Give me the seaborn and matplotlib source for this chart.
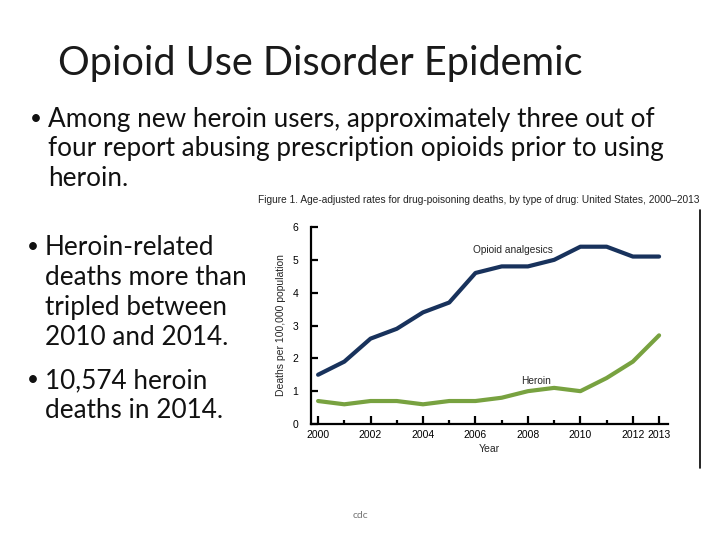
import matplotlib
matplotlib.use('Agg')
import matplotlib.pyplot as plt
import seaborn as sns
import pandas as pd

# Data
years = list(range(2000, 2014))
opioid = [1.5, 1.9, 2.6, 2.9, 3.4, 3.7, 4.6, 4.8, 4.8, 5.0, 5.4, 5.4, 5.1, 5.1]
heroin = [0.7, 0.6, 0.7, 0.7, 0.6, 0.7, 0.7, 0.8, 1.0, 1.1, 1.0, 1.4, 1.9, 2.7]
series_names = ['Opioid analgesics', 'Heroin']
xtick_labels = ['2000', '2002', '2004', '2006', '2008', '2010', '2012', '2013']
yticks = [0, 1, 2, 3, 4, 5, 6]

# slide text
title = 'Opioid Use Disorder Epidemic'
bullet1 = ['Among new heroin users, approximately three out of',
           'four report abusing prescription opioids prior to using',
           'heroin.']
bullet2 = ['Heroin-related', 'deaths more than', 'tripled between', '2010 and 2014.']
bullet3 = ['10,574 heroin', 'deaths in 2014.']
caption = ('Figure 1. Age-adjusted rates for drug-poisoning deaths, '
           'by type of drug: United States, 2000\u20132013')

df = pd.DataFrame({
    'Year': years * 2,
    'Rate': opioid + heroin,
    'Drug': [series_names[0]] * len(years) + [series_names[1]] * len(years),
})

sns.set_style('white')
plt.rcParams['font.family'] = ['Lato', 'DejaVu Sans']

W, H = 720, 540
fig = plt.figure(figsize=(7.2, 5.4), dpi=100)


def px(x, y):
    return x / W, 1 - y / H


def bullet(lines, xb, xt, y0, step, size):
    # smaller bullet sign, raised a little like in PowerPoint
    fig.text(*px(xb, y0 - 2), '\u2022', fontsize=size * 0.8, va='baseline',
             ha='left', color='#111111')
    for i, line in enumerate(lines):
        fig.text(*px(xt, y0 + i * step), line, fontsize=size, va='baseline',
                 ha='left', color='#111111')


fig.text(*px(58, 75), title, fontsize=28.5, va='baseline', ha='left',
         color='#1a1a1a')
bullet(bullet1, 30, 48, 127, 29.5, 18.8)
bullet(bullet2, 27, 45, 255, 30, 18.8)
bullet(bullet3, 27, 45, 388, 30, 18.8)
fig.text(*px(360, 515), 'cdc', fontsize=7.5, ha='center', va='center',
         color='#777777')

# figure caption
fig.text(*px(258, 200), caption, fontsize=7.3, family='Liberation Sans',
         ha='left', va='center', color='#222222')

# right border line
fig.add_artist(plt.Line2D([700 / W, 700 / W], [1 - 210 / H, 1 - 468 / H],
                          color='black', lw=1.2))

ax = fig.add_axes([311 / W, 1 - 424 / H, 357 / W, 197 / H])
sns.lineplot(data=df, x='Year', y='Rate', hue='Drug', ax=ax,
             palette=['#18325c', '#78a240'], linewidth=3, legend=False)

ax.set_xlim(1999.73, 2013.34)
ax.set_ylim(0, 6)
ax.set_xticks([int(t) for t in xtick_labels])
ax.set_xticklabels(xtick_labels)
ax.set_xticks([y for y in years if str(y) not in xtick_labels], minor=True)
ax.set_yticks(yticks)
sns.despine(ax=ax)
for s in ['left', 'bottom']:
    ax.spines[s].set_linewidth(1.6)
    ax.spines[s].set_color('black')
ax.tick_params(axis='x', which='major', direction='in', length=6, width=1.6,
               labelsize=7.5, pad=4, bottom=True, colors='black')
ax.tick_params(axis='x', which='minor', direction='in', length=3, width=1.6,
               bottom=True, colors='black')
ax.tick_params(axis='y', direction='in', length=5, width=1.6, labelsize=7.5,
               pad=9, left=True, colors='black')
for lab in ax.get_xticklabels() + ax.get_yticklabels():
    lab.set_family('Liberation Sans')
ax.set_xlabel('Year', fontsize=7.5, family='Liberation Sans', labelpad=3)
ax.set_ylabel('Deaths per 100,000 population', fontsize=7.5,
              family='Liberation Sans', labelpad=5)

ax.text(2007.44, 5.3, series_names[0], fontsize=7.3, family='Liberation Sans',
        ha='center', va='center')
ax.text(2008.3, 1.32, series_names[1], fontsize=7.3, family='Liberation Sans',
        ha='center', va='center')

fig.savefig('out.png', dpi=100)
